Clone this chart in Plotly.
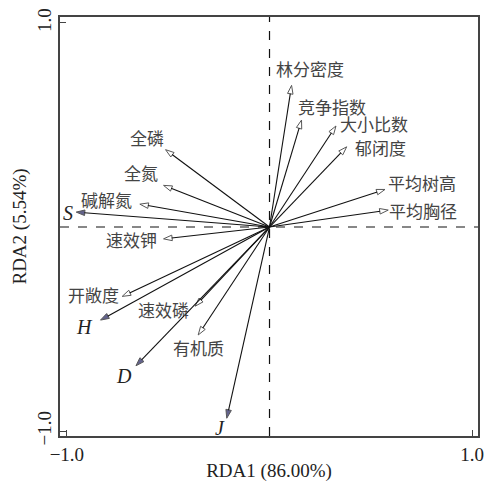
import plotly.graph_objects as go

# Environmental factor arrows (RDA1, RDA2)
env_names = ["林分密度", "竞争指数", "大小比数", "郁闭度", "平均树高", "平均胸径",
             "全磷", "全氮", "碱解氮", "速效钾", "开敞度", "速效磷", "有机质"]
env_rda1 = [0.109, 0.158, 0.328, 0.381, 0.570, 0.586,
            -0.513, -0.523, -0.640, -0.523, -0.727, -0.367, -0.352]
env_rda2 = [0.694, 0.524, 0.495, 0.393, 0.184, 0.083,
            0.379, 0.204, 0.112, -0.058, -0.340, -0.388, -0.529]

# Diversity index arrows
sp_names = ["S", "H", "D", "J"]
sp_rda1 = [-0.954, -0.834, -0.659, -0.211]
sp_rda2 = [0.073, -0.456, -0.680, -0.937]

x_title = "RDA1 (86.00%)"
y_title = "RDA2 (5.54%)"
tick_vals = [-1.0, 1.0]
tick_text = ["\u22121.0", "1.0"]

# label offsets in pixels (dx, dy screen-down)
env_off = [(18, -17), (30, -14), (38, -2), (34, 1), (37, -7), (35, 0),
           (-19, -12), (-23, -13), (-33, -5), (-32, 1), (-29, -2), (-32, 3), (0, 13)]
sp_off = [(-8, 1), (-16, 7), (-12, 10), (-7, 10)]

fig = go.Figure()

def add_arrow(x, y, fill):
    fig.add_trace(go.Scatter(
        x=[0, x], y=[0, y], mode="lines+markers",
        line=dict(color="#111111", width=1.1),
        marker=dict(symbol="arrow", size=[0, 9], angleref="previous",
                    color=fill, line=dict(color="#111111", width=1)),
        showlegend=False, hoverinfo="skip"))

for x, y in zip(env_rda1, env_rda2):
    add_arrow(x, y, "white")
for x, y in zip(sp_rda1, sp_rda2):
    add_arrow(x, y, "#22225e")

cjk = "Noto Sans CJK SC"
serif = "Liberation Serif"
ann = []
for n, x, y, (dx, dy) in zip(env_names, env_rda1, env_rda2, env_off):
    ann.append(dict(x=x, y=y, text=n, showarrow=False, xshift=dx, yshift=-dy,
                    xanchor="center", yanchor="middle",
                    font=dict(family=cjk, size=17, color="#444444")))
for n, x, y, (dx, dy) in zip(sp_names, sp_rda1, sp_rda2, sp_off):
    ann.append(dict(x=x, y=y, text="<i>" + n + "</i>", showarrow=False, xshift=dx, yshift=-dy,
                    xanchor="center", yanchor="middle",
                    font=dict(family=serif, size=20, color="#222222")))

fig.update_layout(
    width=492, height=491,
    margin=dict(l=60, r=8, t=13, b=55),
    plot_bgcolor="white", paper_bgcolor="white",
    annotations=ann,
    shapes=[
        dict(type="line", xref="x", yref="paper", x0=0, x1=0, y0=0, y1=1,
             line=dict(color="#111111", width=1.2, dash="dash")),
        dict(type="line", xref="paper", yref="y", x0=0, x1=1, y0=0, y1=0,
             line=dict(color="#111111", width=1.2, dash="dash")),
    ],
)
axis_common = dict(showgrid=False, zeroline=False, showline=True, mirror=True,
                   linecolor="#444444", linewidth=1.5, ticks="inside", ticklen=6,
                   tickcolor="#444444", tickwidth=1,
                   tickvals=tick_vals, ticktext=tick_text,
                   tickfont=dict(family=serif, size=19, color="#222222"))
fig.update_xaxes(range=[-1.034, 1.029], title=dict(text=x_title, standoff=0,
                 font=dict(family=serif, size=19, color="#222222")), **axis_common)
fig.update_yaxes(range=[-1.024, 1.029], tickangle=-90,
                 title=dict(text=y_title, standoff=2,
                 font=dict(family=serif, size=19, color="#222222")), **axis_common)

fig.write_html("out.html", config={"displayModeBar": False},
               post_script="document.body.style.margin='0';")
